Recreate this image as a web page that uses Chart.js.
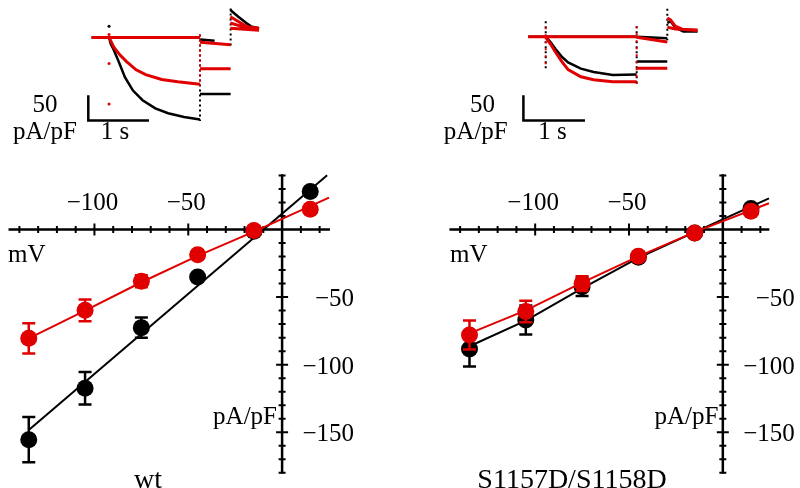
<!DOCTYPE html>
<html lang="en">
<head>
    <meta charset="UTF-8">
    <title>I-V curves: wt and S1157D/S1158D</title>
    <script src="https://cdn.jsdelivr.net/npm/chart.js"></script>
    <style>
        body {
            margin: 0;
            background-color: #ffffff;
        }
        .figure {
            position: relative;
            width: 800px;
            height: 488px;
            overflow: hidden;
        }
        .panel {
            position: absolute;
            top: 0;
            width: 400px;
            height: 488px;
        }
        #panel-wt { left: 0; }
        #panel-mut { left: 400px; }
    </style>
</head>
<body>
    <div class="figure">
        <div class="panel" id="panel-wt"><canvas id="chart-wt" width="400" height="488"></canvas></div>
        <div class="panel" id="panel-mut"><canvas id="chart-mut" width="400" height="488"></canvas></div>
    </div>

    <script>
        // test potentials (mV)
        const voltages = [-135, -105, -75, -45, -15, 15];

        // wt: current density (pA/pF) and error
        const wtBlack = [-155.5, -117.4, -72.6, -35.2, -1.2, 28.2];
        const wtBlackErr = [16.8, 12, 7.5, 0, 0, 0];
        const wtRed = [-80.5, -59.8, -38.3, -18.6, -0.7, 15];
        const wtRedErr = [11.2, 8, 4.5, 0, 0, 0];
        const wtBlackFitV = [-135, 24];
        const wtBlackFitI = [-148.3, 40.2];
        const wtRedFitV = [-135, -105, -75, -45, -15, 25];
        const wtRedFitI = [-80.5, -60, -39, -19.5, -1.5, 23.6];

        // S1157D/S1158D
        const mutBlack = [-88.4, -66.9, -42.4, -20.5, -2.6, 15.5];
        const mutBlackErr = [13, 10.7, 6.7, 0, 0, 0];
        const mutRed = [-78.1, -60.7, -40, -19.8, -2.6, 13.6];
        const mutRedErr = [10.7, 8, 5.5, 0, 0, 0];
        const mutFitV = [-135, -105, -75, -45, -15, 24.6];
        const mutBlackFitI = [-86.4, -67.4, -43.6, -21, -1.9, 23.1];
        const mutRedFitI = [-76.9, -59.8, -39.3, -19.8, -1.9, 19.5];

        // axis ticks
        const xTickLabels = [-100, -50];
        const yTickLabels = [-50, -100, -150];

        // example current traces: time (s), current (pA/pF); null breaks a line
        const wtTraceBlackT = [-0.29, 1.508, null,
            0, 0.027, 0.079, 0.159, 0.265, 0.397, 0.556, 0.767, 0.979, 1.243, 1.508, null,
            1.508, 2.016, null, 1.508, 1.75, null, 2.011, 2.143, 2.275, 2.354, 2.487];
        const wtTraceBlackI = [0, 0, null,
            0, -13, -26, -50, -83, -110, -130, -147, -157, -165, -170, null,
            -117, -117, null, -4, -7, null, 57, 43, 30, 23, 19];
        const wtTraceRedT = [-0.29, 1.508, null,
            0, 0.079, 0.186, 0.29, 0.449, 0.608, 0.873, 1.138, 1.508, null,
            1.508, 2.016, null, 1.508, 2.016, null, 2.011, 2.143, 2.275, 2.487, null,
            2.011, 2.196, 2.487, null, 2.011, 2.487];
        const wtTraceRedI = [0, 0, null,
            0, -20, -37, -50, -67, -77, -87, -92, -97, null,
            -65, -65, null, -10, -15, null, 43, 33, 23, 17, null,
            30, 23, 19, null, 19, 15];
        const wtStepBlackT = [1.508, 1.508, null, 2.016, 2.016];
        const wtStepBlackI = [6, -173, null, 60, -20];
        const wtStepRedT = [1.508, 1.508];
        const wtStepRedI = [6, -100];
        const wtDotsRedT = [0, 0, 0];
        const wtDotsRedI = [6, -54, -138];
        const wtDotsBlackT = [0];
        const wtDotsBlackI = [23];
        const wtBarT = [-0.344, -0.344, 0.662];
        const wtBarI = [-120, -172, -172];

        const mutTraceBlackT = [-0.29, 1.508, null,
            0, 0.079, 0.159, 0.265, 0.371, 0.583, 0.794, 1.111, 1.508, null,
            1.508, 2.016, null, 1.508, 2.016, null, 2.016, 2.069, 2.148, 2.281, 2.519];
        const mutTraceBlackI = [0, 0, null,
            0, -11, -25, -41, -53, -66, -73, -79, -78, null,
            -51, -51, null, 0, -3, null, 29, 32, 19, 11, 11];
        const mutTraceRedT = [-0.29, 1.508, null,
            0, 0.079, 0.159, 0.265, 0.371, 0.583, 0.794, 1.111, 1.508, null,
            1.508, 2.016, null, 1.508, 2.016, null, 2.016, 2.069, 2.148, 2.281, 2.519, null,
            2.016, 2.148, 2.519];
        const mutTraceRedI = [0, 0, null,
            -1, -15, -31, -51, -68, -83, -89, -93, -93, null,
            -65, -65, null, -1, -11, null, 39, 35, 22, 15, 13, null,
            20, 16, 14];
        const mutStepBlackT = [0, 0, null, 1.508, 1.508, null, 2.016, 2.016];
        const mutStepBlackI = [32, -65, null, 22, -98, null, 58, -7];
        const mutStepRedT = [0, 0, null, 1.508, 1.508];
        const mutStepRedI = [20, -65, null, 22, -98];
        const mutBarT = [-0.37, -0.37, 0.651];
        const mutBarI = [-121.4, -173.4, -173.4];

        const RED = '#e00000';
        const BLACK = '#000000';
        const FONT = '25px "Liberation Serif", "Times New Roman", serif';
        const TITLE_FONT = '28px "Liberation Serif", "Times New Roman", serif';

        function pts(xs, ys) {
            return xs.map((x, i) => ({ x: x === null ? 0 : x, y: ys[i] }));
        }

        function fmt(v) {
            return v < 0 ? '\u2212' + Math.abs(v) : String(v);
        }

        // axes crossing at the origin, with ticks through the line and labels outside
        const ivAxes = {
            id: 'ivAxes',
            beforeDatasetsDraw(chart, args, opts) {
                const ctx = chart.ctx;
                const sx = chart.scales.x;
                const sy = chart.scales.y;
                const x0 = sx.getPixelForValue(0);
                const y0 = sy.getPixelForValue(0);
                ctx.save();
                ctx.strokeStyle = BLACK;
                ctx.lineWidth = 2.5;
                ctx.beginPath();
                ctx.moveTo(sx.getPixelForValue(opts.xFrom), y0);
                ctx.lineTo(sx.getPixelForValue(opts.xTo), y0);
                ctx.moveTo(x0, sy.getPixelForValue(opts.yFrom));
                ctx.lineTo(x0, sy.getPixelForValue(opts.yTo));
                ctx.stroke();

                ctx.lineWidth = 2;
                ctx.beginPath();
                for (let v = -140; v <= 20; v += 10) {
                    if (v === 0) continue;
                    const px = sx.getPixelForValue(v);
                    const len = v % 50 === 0 ? 6 : 3.5;
                    ctx.moveTo(px, y0 - len);
                    ctx.lineTo(px, y0 + len);
                }
                for (let v = 40; v >= -180; v -= 10) {
                    if (v === 0) continue;
                    const py = sy.getPixelForValue(v);
                    const len = v % 50 === 0 ? 6 : 3.5;
                    ctx.moveTo(x0 - len, py);
                    ctx.lineTo(x0 + len, py);
                }
                ctx.stroke();

                ctx.fillStyle = BLACK;
                ctx.font = FONT;
                ctx.textBaseline = 'alphabetic';
                ctx.textAlign = 'center';
                xTickLabels.forEach(v => ctx.fillText(fmt(v), sx.getPixelForValue(v) - 2, y0 - 19.5));
                ctx.textAlign = 'right';
                yTickLabels.forEach(v => ctx.fillText(fmt(v), x0 + 72, sy.getPixelForValue(v) + 9));

                opts.texts.forEach(t => {
                    ctx.font = t.font || FONT;
                    ctx.textAlign = t.align;
                    ctx.fillText(t.text, t.x, t.y);
                });
                ctx.restore();
            }
        };

        const errorBars = {
            id: 'errorBars',
            beforeDatasetDraw(chart, args) {
                const ds = chart.data.datasets[args.index];
                if (!ds.errors) return;
                const ctx = chart.ctx;
                const sx = chart.scales.x;
                const sy = chart.scales.y;
                ctx.save();
                ctx.strokeStyle = ds.backgroundColor;
                ctx.lineWidth = 2.5;
                ctx.beginPath();
                ds.data.forEach((p, i) => {
                    const e = ds.errors[i];
                    if (!e) return;
                    const px = sx.getPixelForValue(p.x);
                    const top = sy.getPixelForValue(p.y + e);
                    const bot = sy.getPixelForValue(p.y - e);
                    ctx.moveTo(px, top);
                    ctx.lineTo(px, bot);
                    ctx.moveTo(px - 6.5, top);
                    ctx.lineTo(px + 6.5, top);
                    ctx.moveTo(px - 6.5, bot);
                    ctx.lineTo(px + 6.5, bot);
                });
                ctx.stroke();
                ctx.restore();
            }
        };

        function lineSet(data, color, width, order, inset, dash) {
            return {
                data: data,
                showLine: true,
                borderColor: color,
                backgroundColor: color,
                borderWidth: width,
                borderDash: dash || [],
                pointRadius: 0,
                spanGaps: false,
                order: order,
                clip: false,
                xAxisID: inset ? 'tx' : 'x',
                yAxisID: inset ? 'ty' : 'y'
            };
        }

        function pointSet(data, errors, color, order) {
            return {
                data: data,
                errors: errors,
                showLine: false,
                backgroundColor: color,
                borderColor: color,
                borderWidth: 0,
                pointRadius: 8.5,
                pointBorderWidth: 0,
                order: order,
                clip: false,
                xAxisID: 'x',
                yAxisID: 'y'
            };
        }

        function dotSet(data, color, order) {
            return {
                data: data,
                showLine: false,
                backgroundColor: color,
                pointRadius: 1.5,
                pointBorderWidth: 0,
                order: order,
                clip: false,
                xAxisID: 'tx',
                yAxisID: 'ty'
            };
        }

        function makePanel(canvasId, p) {
            new Chart(document.getElementById(canvasId), {
                type: 'scatter',
                data: { datasets: p.datasets },
                options: {
                    responsive: false,
                    animation: false,
                    devicePixelRatio: 1,
                    layout: { padding: 0 },
                    events: [],
                    scales: {
                        x: { type: 'linear', display: false, min: p.xMin, max: p.xMax },
                        y: { type: 'linear', display: false, min: -185, max: 163.6 },
                        tx: { type: 'linear', axis: 'x', position: 'bottom', display: false, min: p.tMin, max: p.tMax },
                        ty: { type: 'linear', axis: 'y', position: 'left', display: false, min: p.iMin, max: p.iMax }
                    },
                    plugins: {
                        legend: { display: false },
                        tooltip: { enabled: false },
                        ivAxes: {
                            xFrom: p.xFrom, xTo: p.xTo, yFrom: 41, yTo: -180.5,
                            texts: p.texts
                        }
                    }
                },
                plugins: [ivAxes, errorBars]
            });
        }

        makePanel('chart-wt', {
            xMin: -145.8, xMax: 58.3, xFrom: -145.8, xTo: 25.5,
            tMin: -1.667, tMax: 4.683, iMin: -916, iMax: 60,
            datasets: [
                pointSet(pts(voltages, wtRed), wtRedErr, RED, 0),
                lineSet(pts(wtRedFitV, wtRedFitI), RED, 2, 1, false),
                pointSet(pts(voltages, wtBlack), wtBlackErr, BLACK, 2),
                lineSet(pts(wtBlackFitV, wtBlackFitI), BLACK, 2, 3, false),
                dotSet(pts(wtDotsRedT, wtDotsRedI), RED, 4),
                lineSet(pts(wtStepRedT, wtStepRedI), RED, 2, 5, true, [2, 3]),
                lineSet(pts(wtTraceRedT, wtTraceRedI), RED, 3, 6, true),
                dotSet(pts(wtDotsBlackT, wtDotsBlackI), BLACK, 7),
                lineSet(pts(wtStepBlackT, wtStepBlackI), BLACK, 2, 8, true, [2, 3]),
                lineSet(pts(wtTraceBlackT, wtTraceBlackI), BLACK, 2.5, 9, true),
                lineSet(pts(wtBarT, wtBarI), BLACK, 2.5, 10, true)
            ],
            texts: [
                { text: '50', x: 45, y: 111.5, align: 'center' },
                { text: 'pA/pF', x: 45, y: 138.5, align: 'center' },
                { text: '1 s', x: 115, y: 138.5, align: 'center' },
                { text: 'mV', x: 8, y: 261.5, align: 'left' },
                { text: 'pA/pF', x: 277, y: 424, align: 'right' },
                { text: 'wt', x: 148, y: 488, align: 'center', font: TITLE_FONT }
            ]
        });

        makePanel('chart-mut', {
            xMin: -167.5, xMax: 36.6, xFrom: -145.7, xTo: 24.8,
            tMin: -2.275, tMax: 4.075, iMin: -917.4, iMax: 58.6,
            datasets: [
                pointSet(pts(voltages, mutRed), mutRedErr, RED, 0),
                lineSet(pts(mutFitV, mutRedFitI), RED, 2, 1, false),
                pointSet(pts(voltages, mutBlack), mutBlackErr, BLACK, 2),
                lineSet(pts(mutFitV, mutBlackFitI), BLACK, 2, 3, false),
                lineSet(pts(mutStepRedT, mutStepRedI), RED, 2, 5, true, [2, 5]),
                lineSet(pts(mutTraceRedT, mutTraceRedI), RED, 3, 6, true),
                lineSet(pts(mutTraceBlackT, mutTraceBlackI), BLACK, 2.5, 7, true),
                lineSet(pts(mutStepBlackT, mutStepBlackI), BLACK, 2, 8, true, [2, 3]),
                lineSet(pts(mutBarT, mutBarI), BLACK, 2.5, 10, true)
            ],
            texts: [
                { text: '50', x: 82.5, y: 111.5, align: 'center' },
                { text: 'pA/pF', x: 75.8, y: 138.5, align: 'center' },
                { text: '1 s', x: 152.5, y: 138.5, align: 'center' },
                { text: 'mV', x: 50, y: 261.5, align: 'left' },
                { text: 'pA/pF', x: 318.3, y: 424, align: 'right' },
                { text: 'S1157D/S1158D', x: 172, y: 488, align: 'center', font: TITLE_FONT }
            ]
        });
    </script>
</body>
</html>
